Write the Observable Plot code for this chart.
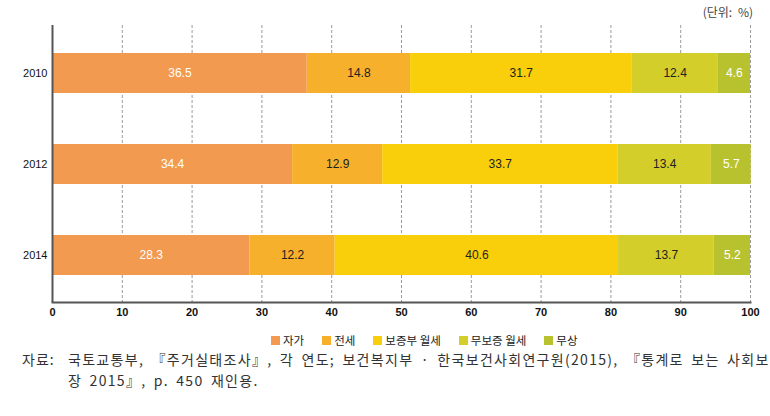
<!DOCTYPE html>
<html>
<head>
<meta charset="utf-8">
<script src="https://cdn.jsdelivr.net/npm/d3@7"></script>
<script src="https://cdn.jsdelivr.net/npm/@observablehq/plot@0.6"></script>
<style>
  body { margin: 0; background: #fff; width: 770px; height: 416px; overflow: hidden; position: relative; font-family: "Noto Sans CJK KR", sans-serif; }
  #unit { position: absolute; top: 3px; right: 17px; font-size: 12px; color: #444; z-index: 2; word-spacing: 3px; font-family: "Noto Sans CJK KR", sans-serif; }
  #chart { position: absolute; top: 0; left: 0; z-index: 1; }
  #legend { position: absolute; top: 332px; left: 271px; display: flex; font-size: 11.5px; color: #222; z-index: 2; font-family: "Noto Sans CJK KR", sans-serif; }
  #legend .item { display: flex; align-items: center; margin-right: 18px; }
  #legend .sw { width: 9px; height: 9px; margin-right: 3px; }
  #caption { position: absolute; top: 349px; left: 22px; font-size: 14px; color: #333; line-height: 21px; z-index: 2; letter-spacing: 1.3px; word-spacing: 3px; font-family: "Noto Sans CJK KR", sans-serif; white-space: nowrap; }
  #caption .lab { display: inline-block; width: 46px; letter-spacing: 1px; }
</style>
</head>
<body>
<div id="chart"></div>
<div id="unit"></div>
<div id="legend"></div>
<div id="caption"></div>
<script>
const years = ["2010", "2012", "2014"];
const categories = ["자가", "전세", "보증부 월세", "무보증 월세", "무상"];
const colors = ["#F39A51", "#F6B02C", "#F9CF0B", "#D4CE2B", "#B8C22F"];
const values2010 = [36.5, 14.8, 31.7, 12.4, 4.6];
const values2012 = [34.4, 12.9, 33.7, 13.4, 5.7];
const values2014 = [28.3, 12.2, 40.6, 13.7, 5.2];
const xTicks = [0, 10, 20, 30, 40, 50, 60, 70, 80, 90, 100];
const unitLabel = "(단위: %)";
const captionLabel = "자료:";
const captionLine1 = "국토교통부, 『주거실태조사』, 각 연도; 보건복지부 · 한국보건사회연구원(2015), 『통계로 보는 사회보";
const captionLine2 = "장 2015』, p. 450 재인용.";

const series = [values2010, values2012, values2014];
const data = [];
years.forEach((y, i) => {
  categories.forEach((c, j) => data.push({year: y, category: c, value: series[i][j], idx: j}));
});

const chart = Plot.plot({
  width: 770,
  height: 327,
  marginTop: 25,
  marginLeft: 52,
  marginRight: 20,
  marginBottom: 25,
  style: {fontFamily: "'Liberation Sans Narrow', 'Liberation Sans', sans-serif", background: "#fff"},
  x: {domain: [0, 100], axis: null},
  y: {domain: years, paddingInner: 0.565, paddingOuter: 0.29, axis: null},
  color: {domain: categories, range: colors},
  marks: [
    Plot.gridX(xTicks.filter(d => d > 0), {stroke: "#9a9a9a", strokeOpacity: 1, strokeDasharray: "3,2", strokeWidth: 1}),
    Plot.barX(data, Plot.stackX({x: "value", y: "year", fill: "category", z: "category", inset: 0})),
    Plot.text(data, Plot.stackX({
      x: "value", y: "year", z: "category",
      text: d => d.value.toFixed(1),
      fill: d => (d.idx === 0 || d.idx === categories.length - 1) ? "#ffffff" : "#222222",
      fontSize: 12
    })),
    Plot.ruleX([0], {stroke: "#555", strokeWidth: 2}),
    Plot.frame({anchor: "bottom", stroke: "#555", strokeWidth: 2}),
    Plot.axisX({ticks: xTicks, tickSize: 0, tickPadding: 6, fontSize: 11, fontWeight: "bold", fill: "#111", label: null}),
    Plot.axisY({tickSize: 0, tickPadding: 5, fontSize: 11, fill: "#111", label: null})
  ]
});
document.getElementById("chart").appendChild(chart);

document.getElementById("unit").textContent = unitLabel;

const legend = document.getElementById("legend");
categories.forEach((c, i) => {
  const item = document.createElement("div");
  item.className = "item";
  const sw = document.createElement("span");
  sw.className = "sw";
  sw.style.background = colors[i];
  const t = document.createElement("span");
  t.textContent = c;
  item.appendChild(sw);
  item.appendChild(t);
  legend.appendChild(item);
});

const cap = document.getElementById("caption");
const l1 = document.createElement("div");
const lab = document.createElement("span");
lab.className = "lab";
lab.textContent = captionLabel;
l1.appendChild(lab);
l1.appendChild(document.createTextNode(captionLine1));
const l2 = document.createElement("div");
l2.style.paddingLeft = "46px";
l2.textContent = captionLine2;
cap.appendChild(l1);
cap.appendChild(l2);
</script>
</body>
</html>
